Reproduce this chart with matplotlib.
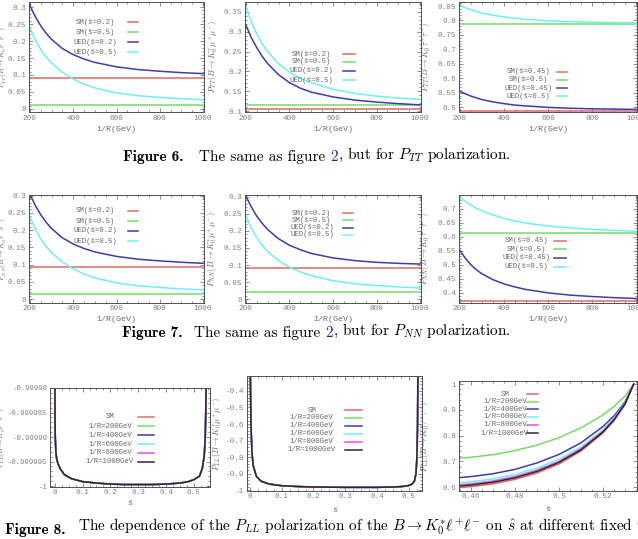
#polarization figures 6,7,8
import matplotlib.pyplot as plt
import numpy as np
from matplotlib.ticker import AutoMinorLocator, FuncFormatter, FixedLocator

plt.rcParams['mathtext.fontset'] = 'cm'
plt.rcParams['font.family'] = ['Liberation Mono', 'DejaVu Sans Mono']

# 1/R in GeV
inv_R = [200, 225, 250, 275, 300, 350, 400, 450, 500, 600, 700, 800, 900, 1000]

# figure 6 : P_TT
tt_e_sm = [0.092, 0.013]
tt_e_ued02 = [0.305, 0.272, 0.245, 0.223, 0.205, 0.178, 0.160, 0.147, 0.137, 0.124, 0.116, 0.111, 0.107, 0.104]
tt_e_ued05 = [0.240, 0.204, 0.175, 0.153, 0.135, 0.108, 0.088, 0.073, 0.062, 0.047, 0.039, 0.034, 0.030, 0.027]
tt_mu_sm = [0.105, 0.116]
tt_mu_ued02 = [0.317, 0.285, 0.260, 0.238, 0.220, 0.192, 0.172, 0.158, 0.148, 0.136, 0.128, 0.123, 0.119, 0.116]
tt_mu_ued05 = [0.362, 0.325, 0.295, 0.270, 0.250, 0.220, 0.198, 0.183, 0.172, 0.155, 0.145, 0.138, 0.133, 0.130]
tt_tau_sm = [0.488, 0.787]
tt_tau_ued045 = [0.555, 0.546, 0.538, 0.532, 0.526, 0.518, 0.512, 0.507, 0.504, 0.499, 0.496, 0.494, 0.493, 0.492]
tt_tau_ued05 = [0.853, 0.844, 0.837, 0.831, 0.826, 0.818, 0.812, 0.808, 0.804, 0.799, 0.796, 0.794, 0.793, 0.792]

# figure 7 : P_NN
nn_e_sm = [0.092, 0.014]
nn_e_ued02 = [0.305, 0.272, 0.245, 0.223, 0.205, 0.178, 0.160, 0.147, 0.137, 0.124, 0.116, 0.111, 0.107, 0.104]
nn_e_ued05 = [0.240, 0.204, 0.175, 0.153, 0.135, 0.108, 0.088, 0.073, 0.062, 0.047, 0.039, 0.034, 0.030, 0.027]
nn_mu_sm = [0.092, 0.021]
nn_mu_ued02 = [0.302, 0.270, 0.243, 0.222, 0.204, 0.177, 0.158, 0.145, 0.134, 0.121, 0.113, 0.108, 0.105, 0.103]
nn_mu_ued05 = [0.245, 0.209, 0.180, 0.158, 0.140, 0.113, 0.094, 0.080, 0.069, 0.054, 0.045, 0.040, 0.036, 0.033]
nn_tau_sm = [0.371, 0.613]
nn_tau_ued045 = [0.551, 0.523, 0.500, 0.482, 0.468, 0.447, 0.432, 0.421, 0.412, 0.400, 0.392, 0.387, 0.383, 0.380]
nn_tau_ued05 = [0.740, 0.725, 0.712, 0.701, 0.692, 0.677, 0.665, 0.656, 0.648, 0.638, 0.631, 0.626, 0.622, 0.619]

# figure 8 : P_LL vs s-hat (all 1/R curves lie on top of each other for e and mu)
s_e = [0.0005, 0.001, 0.002, 0.004, 0.007, 0.012, 0.02, 0.035, 0.06, 0.1, 0.15, 0.2, 0.25,
       0.3, 0.35, 0.4, 0.45, 0.48, 0.5, 0.52, 0.53, 0.537, 0.541, 0.543, 0.545]
ll_e = [-0.99997, -0.999985, -0.99999, -0.999993, -0.9999945, -0.9999955, -0.9999965,
        -0.9999977, -0.9999985, -0.9999991, -0.9999994, -0.9999996, -0.9999997, -0.9999997,
        -0.9999997, -0.9999996, -0.9999994, -0.9999991, -0.9999987, -0.999998, -0.9999965,
        -0.999994, -0.99999, -0.999984, -0.999975]
s_mu = [0.001, 0.003, 0.006, 0.01, 0.02, 0.035, 0.06, 0.1, 0.15, 0.2, 0.3, 0.4, 0.45, 0.48,
        0.5, 0.51, 0.518, 0.523, 0.526, 0.528, 0.529]
ll_mu = [-0.3, -0.6, -0.77, -0.85, -0.915, -0.945, -0.962, -0.972, -0.977, -0.980, -0.982,
         -0.982, -0.980, -0.977, -0.971, -0.963, -0.945, -0.90, -0.80, -0.6, -0.3]
s_tau = [0.4545, 0.46, 0.47, 0.48, 0.49, 0.50, 0.51, 0.52, 0.525, 0.53, 0.534]
ll_tau = {
    'SM':          [0.598, 0.602, 0.613, 0.630, 0.655, 0.690, 0.740, 0.810, 0.858, 0.920, 1.0],
    '1/R=200GeV':  [0.712, 0.716, 0.726, 0.742, 0.763, 0.792, 0.830, 0.880, 0.913, 0.953, 1.0],
    '1/R=400GeV':  [0.637, 0.641, 0.652, 0.669, 0.694, 0.727, 0.772, 0.835, 0.876, 0.930, 1.0],
    '1/R=600GeV':  [0.617, 0.621, 0.632, 0.649, 0.674, 0.708, 0.756, 0.822, 0.867, 0.925, 1.0],
    '1/R=800GeV':  [0.609, 0.613, 0.624, 0.641, 0.666, 0.700, 0.749, 0.817, 0.863, 0.923, 1.0],
    '1/R=1000GeV': [0.604, 0.608, 0.619, 0.636, 0.661, 0.696, 0.745, 0.814, 0.861, 0.922, 1.0],
}
ll_labels = list(ll_tau.keys())

RED, GREEN, BLUE, CYAN, MAG, BLACK = '#e06868', '#74dc66', '#3c3cb0', '#6ef0f0', '#e850e8', '#2a2a2a'
four_cols = [RED, GREEN, BLUE, CYAN]
six_cols = [RED, GREEN, BLUE, CYAN, MAG, BLACK]
GRAY = '#6a6a6a'

fig = plt.figure(figsize=(6.38, 5.39), dpi=100)
fig.patch.set_facecolor('white')


def px_axes(x0, x1, y0, y1):
    return fig.add_axes([x0 / 638, 1 - y1 / 539, (x1 - x0) / 638, (y1 - y0) / 539])


def frame(ax, xminor=4, yminor=5):
    for s in ax.spines.values():
        s.set_color('#505050')
        s.set_linewidth(0.7)
    ax.tick_params(which='both', direction='in', top=True, right=True, colors='#606060',
                   labelcolor='#808080', labelsize=5.5, pad=1.8, width=0.5)
    ax.tick_params(which='major', length=3)
    ax.tick_params(which='minor', length=1.5)
    ax.xaxis.set_minor_locator(AutoMinorLocator(xminor))
    ax.yaxis.set_minor_locator(AutoMinorLocator(yminor))
    fmt = FuncFormatter(lambda v, p: '%g' % v)
    ax.xaxis.set_major_formatter(fmt)
    ax.yaxis.set_major_formatter(fmt)


def legend(ax, labels, cols, xc, xl, ys):
    for lab, c, y in zip(labels, cols, ys):
        ax.text(xc, y, lab, transform=ax.transAxes, ha='center', va='center',
                fontsize=5.3, color=GRAY)
        ax.plot(xl, [y, y], transform=ax.transAxes, color=c, lw=1.1, clip_on=False)


def ylab(ax, txt, xpx, size=6.2):
    # xpx = wanted centre of the rotated label, in pixels
    ax.set_ylabel(txt, fontsize=size, color=GRAY)
    bb = ax.get_position()
    ax.yaxis.set_label_coords(((xpx + 4) / 638 - bb.x0) / bb.width, 0.5)


def rpanel(ax, sm, ued1, ued2, labels, ylim, yticks, leg):
    n = len(inv_R)
    ax.plot(inv_R, [sm[0]] * n, color=RED, lw=1.1)
    ax.plot(inv_R, [sm[1]] * n, color=GREEN, lw=1.1)
    ax.plot(inv_R, ued1, color=BLUE, lw=1.1)
    ax.plot(inv_R, ued2, color=CYAN, lw=1.1)
    ax.set_xlim(196, 1004)
    ax.set_ylim(*ylim)
    ax.set_xticks([200, 400, 600, 800, 1000])
    ax.yaxis.set_major_locator(FixedLocator(yticks))
    frame(ax)
    legend(ax, labels, four_cols, *leg)


lab02 = ['SM(ŝ=0.2)', 'SM(ŝ=0.5)', 'UED(ŝ=0.2)', 'UED(ŝ=0.5)']
lab045 = ['SM(ŝ=0.45)', 'SM(ŝ=0.5)', 'UED(ŝ=0.45)', 'UED(ŝ=0.5)']
t005 = [0, 0.05, 0.1, 0.15, 0.2, 0.25, 0.3]

# ---- row 1 (figure 6)
ax1 = px_axes(29, 204, 2, 112)
rpanel(ax1, tt_e_sm, tt_e_ued02, tt_e_ued05, lab02, (-0.009, 0.315), t005,
       (0.377, [0.566, 0.623], [0.818, 0.727, 0.636, 0.545]))
ylab(ax1, r'$P_{TT}(B\to K_0^{*}e^{+}e^{-})$', 5.5, size=5.4)

ax2 = px_axes(245, 421, 2, 112)
rpanel(ax2, tt_mu_sm, tt_mu_ued02, tt_mu_ued05, lab02, (0.098, 0.375),
       [0.1, 0.15, 0.2, 0.25, 0.3, 0.35],
       (0.375, [0.557, 0.625], [0.527, 0.455, 0.373, 0.29]))
ylab(ax2, r'$P_{TT}(B\to K_0^{*}\mu^{+}\mu^{-})$', 216)

ax3 = px_axes(459, 637, 2, 112)
rpanel(ax3, tt_tau_sm, tt_tau_ued045, tt_tau_ued05, lab045, (0.483, 0.864),
       [0.5, 0.55, 0.6, 0.65, 0.7, 0.75, 0.8, 0.85],
       (0.39, [0.553, 0.609], [0.364, 0.291, 0.218, 0.145]))
ylab(ax3, r'$P_{TT}(B\to K_0^{*}\tau^{+}\tau^{-})$', 429)

# ---- row 2 (figure 7)
ax4 = px_axes(29, 204, 195, 303)
rpanel(ax4, nn_e_sm, nn_e_ued02, nn_e_ued05, lab02, (-0.011, 0.302), t005,
       (0.377, [0.566, 0.623], [0.852, 0.759, 0.667, 0.574]))
ylab(ax4, r'$P_{NN}(B\to K_0^{*}e^{+}e^{-})$', 5.5, size=5.4)

ax5 = px_axes(245, 421, 195, 303)
rpanel(ax5, nn_mu_sm, nn_mu_ued02, nn_mu_ued05, lab02, (-0.011, 0.305), t005,
       (0.38, [0.557, 0.614], [0.83, 0.765, 0.698, 0.63]))
ylab(ax5, r'$P_{NN}(B\to K_0^{*}\mu^{+}\mu^{-})$', 215)

ax6 = px_axes(459, 637, 195, 303)
rpanel(ax6, nn_tau_sm, nn_tau_ued045, nn_tau_ued05, lab045, (0.364, 0.748),
       [0.4, 0.45, 0.5, 0.55, 0.6, 0.65, 0.7],
       (0.38, [0.536, 0.603], [0.577, 0.497, 0.42, 0.336]))
ylab(ax6, r'$P_{NN}(B\to K_0^{*}\tau^{+}\tau^{-})$', 428)

for ax in [ax1, ax2, ax3]:
    ax.set_xlabel('1/R(GeV)', fontsize=6, color=GRAY)
    ax.xaxis.set_label_coords(0.5, -0.13)
for ax in [ax4, ax5, ax6]:
    ax.set_xlabel('1/R(GeV)', fontsize=6, color=GRAY)
    ax.xaxis.set_label_coords(0.5, -0.12)

# ---- row 3 (figure 8)
ax7 = px_axes(50, 210, 388, 487)
for c in six_cols:
    ax7.plot(s_e, ll_e, color=c, lw=1.1)
ax7.set_xlim(-0.017, 0.558)
ax7.set_ylim(-1.0000002, -0.99998)
ax7.xaxis.set_major_locator(FixedLocator([0, 0.1, 0.2, 0.3, 0.4, 0.5]))
ax7.yaxis.set_major_locator(FixedLocator([-1, -0.999995, -0.99999, -0.999985, -0.99998]))
frame(ax7)
ax7.tick_params(axis='y', labelsize=5.2)
legend(ax7, ll_labels, six_cols, 0.375, [0.55, 0.65], [0.71, 0.616, 0.522, 0.434, 0.346, 0.256])
ylab(ax7, r'$P_{LL}(B\to K_0^{*}e^{+}e^{-})$', 4.2, size=5.2)

ax8 = px_axes(247, 422, 376, 491)
for c in six_cols:
    ax8.plot(s_mu, ll_mu, color=c, lw=1.1)
ax8.set_xlim(-0.0095, 0.542)
ax8.set_ylim(-1.004, -0.31)
ax8.xaxis.set_major_locator(FixedLocator([0, 0.1, 0.2, 0.3, 0.4, 0.5]))
ax8.yaxis.set_major_locator(FixedLocator([-1, -0.9, -0.8, -0.7, -0.6, -0.5, -0.4]))
frame(ax8)
legend(ax8, ll_labels, six_cols, 0.37, [0.56, 0.655], [0.704, 0.637, 0.568, 0.498, 0.429, 0.359])
ylab(ax8, r'$P_{LL}(B\to K_0^{*}\mu^{+}\mu^{-})$', 220)

ax9 = px_axes(459, 637, 381, 491)
for lab, c in zip(ll_labels, six_cols):
    ax9.plot(s_tau, ll_tau[lab], color=c, lw=1.1)
ax9.set_xlim(0.4545, 0.5355)
ax9.set_ylim(0.585, 1.012)
ax9.xaxis.set_major_locator(FixedLocator([0.46, 0.48, 0.5, 0.52]))
ax9.yaxis.set_major_locator(FixedLocator([0.6, 0.7, 0.8, 0.9, 1.0]))
frame(ax9)
legend(ax9, ll_labels, six_cols, 0.258, [0.38, 0.445], [0.879, 0.812, 0.742, 0.673, 0.6, 0.527])
ylab(ax9, r'$P_{LL}(B\to K_0^{*}\tau^{+}\tau^{-})$', 428)

ax7.set_xlabel('ŝ', fontsize=6, color=GRAY)
ax7.xaxis.set_label_coords(0.5, -0.13)
for ax in [ax8, ax9]:
    ax.set_xlabel('ŝ', fontsize=6, color=GRAY)
    ax.xaxis.set_label_coords(0.5, -0.14)

# ---- captions, chained pieces so "2" can be blue
cax = fig.add_axes([0, 0, 1, 1])
cax.axis('off')
cax.set_zorder(-1)


def caption(x, ybase, parts):
    prev = None
    for txt, kw, gap in parts:
        props = dict(fontsize=11, family='cmr10', color='black')
        props.update(kw)
        if prev is None:
            prev = cax.text(x / 638, 1 - ybase / 539, txt, transform=fig.transFigure,
                            va='baseline', ha='left', **props)
        else:
            prev = cax.annotate(txt, xy=(1, 0), xycoords=prev, xytext=(gap, 0),
                                textcoords='offset points', va='bottom', ha='left', **props)


caption(123, 161, [('Figure 6.', dict(family='cmb10'), 0),
                   ('The same as figure', {}, 11),
                   ('2', dict(color='#2020c0'), 3.7),
                   (', but for $P_{TT}$ polarization.', {}, 0)])
caption(122, 337, [('Figure 7.', dict(family='cmb10'), 0),
                   ('The same as figure', {}, 8),
                   ('2', dict(color='#2020c0'), 3.7),
                   (', but for $P_{NN}$ polarization.', {}, 0)])
caption(5, 534, [('Figure 8.', dict(family='cmb10'), 0),
                 ('The dependence of the $P_{LL}$ polarization of the $B\\to K_0^{*}\\ell^{+}\\ell^{-}$'
                  ' on $\\hat{s}$ at different fixed values of', {}, 9)])

fig.savefig('out.png', dpi=100, facecolor='white')
